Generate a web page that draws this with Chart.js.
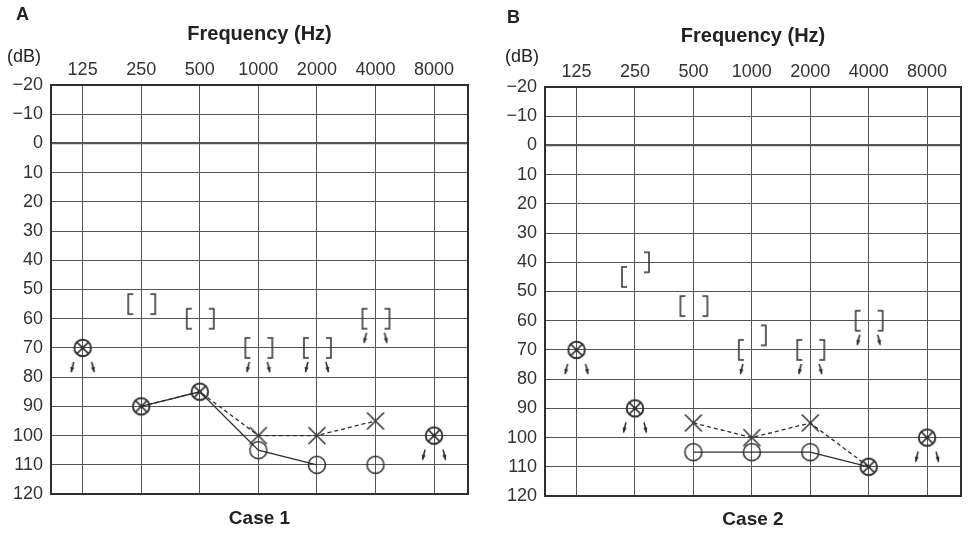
<!DOCTYPE html>
<html>
<head>
<meta charset="utf-8">
<script src="https://cdn.jsdelivr.net/npm/chart.js@4.4.0/dist/chart.umd.min.js"></script>
<style>
  body { margin: 0; background: #fff; }
  #wrap { position: relative; width: 968px; height: 535px; overflow: hidden; }
  #chartA { position: absolute; left: 0; top: 0; }
  #chartB { position: absolute; left: 494px; top: 2px; }
</style>
</head>
<body>
<div id="wrap">
  <canvas id="chartA" width="484" height="535"></canvas>
  <canvas id="chartB" width="474" height="533"></canvas>
</div>
<script>
// ---- data ----
const freqLabels = ['125', '250', '500', '1000', '2000', '4000', '8000'];

// Case 1
const case1RightAir  = [70, 90, 85, 105, 110, 110, 100];   // O
const case1LeftAir   = [70, 90, 85, 100, 100, 95, 100];    // X
const case1RightLine = [null, 90, 85, 105, 110, null, null];
const case1LeftLine  = [null, 90, 85, 100, 100, 95, null];
const case1RightBone = [null, 55, 60, 70, 70, 60, null];   // [
const case1LeftBone  = [null, 55, 60, 70, 70, 60, null];   // ]
const case1RightNR   = [70, null, null, 70, 70, 60, 100];  // no response, right
const case1LeftNR    = [70, null, null, 70, 70, 60, 100];  // no response, left

// Case 2
const case2RightAir  = [70, 90, 105, 105, 105, 110, 100];
const case2LeftAir   = [70, 90, 95, 100, 95, 110, 100];
const case2RightLine = [null, null, 105, 105, 105, 110, null];
const case2LeftLine  = [null, null, 95, 100, 95, 110, null];
const case2RightBone = [null, 45, 55, 70, 70, 60, null];
const case2LeftBone  = [null, 40, 55, 65, 70, 60, null];
const case2RightNR   = [70, 90, null, 70, 70, 60, 100];
const case2LeftNR    = [70, 90, null, null, 70, 60, 100];

const ink = '#2e2e2e';
const gridColor = '#555';
const fontFamily = "'Liberation Sans', Arial, Helvetica, sans-serif";

// ---- symbol images ----
function makeSymbol(w, h, draw) {
    const c = document.createElement('canvas');
    c.width = w; c.height = h;
    const g = c.getContext('2d');
    g.translate(w / 2, h / 2);
    g.strokeStyle = ink;
    g.fillStyle = ink;
    g.lineWidth = 1.5;
    g.lineCap = 'butt';
    draw(g);
    return c;
}

function arrow(g, x1, y1, x2, y2) {
    g.beginPath(); g.moveTo(x1, y1); g.lineTo(x2, y2); g.stroke();
    const a = Math.atan2(y2 - y1, x2 - x1);
    const bx = x2 - 5 * Math.cos(a), by = y2 - 5 * Math.sin(a);
    const nx = -Math.sin(a) * 2, ny = Math.cos(a) * 2;
    g.beginPath();
    g.moveTo(x2 + Math.cos(a), y2 + Math.sin(a));
    g.lineTo(bx + nx, by + ny);
    g.lineTo(bx - nx, by - ny);
    g.closePath();
    g.fill();
}

const imgCircle = makeSymbol(24, 24, g => {
    g.beginPath(); g.arc(0, 0, 8.5, 0, Math.PI * 2); g.stroke();
});
const imgCross = makeSymbol(24, 24, g => {
    g.beginPath();
    g.moveTo(-8.5, -8.5); g.lineTo(8.5, 8.5);
    g.moveTo(8.5, -8.5); g.lineTo(-8.5, 8.5);
    g.stroke();
});
const imgBoth = makeSymbol(24, 24, g => {
    g.lineWidth = 1.9;
    g.beginPath(); g.arc(0, 0, 8.3, 0, Math.PI * 2); g.stroke();
    g.lineWidth = 1.5;
    g.beginPath();
    g.moveTo(-5.9, -5.9); g.lineTo(5.9, 5.9);
    g.moveTo(5.9, -5.9); g.lineTo(-5.9, 5.9);
    g.stroke();
    g.beginPath(); g.arc(0, 0, 1.8, 0, Math.PI * 2); g.fill();
});
const imgBracketOpen = makeSymbol(40, 30, g => {
    g.beginPath();
    g.moveTo(-8, -10); g.lineTo(-13, -10); g.lineTo(-13, 10); g.lineTo(-8, 10);
    g.stroke();
});
const imgBracketClose = makeSymbol(40, 30, g => {
    g.beginPath();
    g.moveTo(9, -10); g.lineTo(14, -10); g.lineTo(14, 10); g.lineTo(9, 10);
    g.stroke();
});
const imgArrowLeft = makeSymbol(40, 60, g => arrow(g, -9, 14, -11.5, 24));
const imgArrowRight = makeSymbol(40, 60, g => arrow(g, 9, 14, 11.5, 24));

const toPoints = arr => arr.map((v, i) => ({ x: i, y: v }));

// ---- panel text + frame ----
const panelPlugin = {
    id: 'panelText',
    afterDraw(chart, args, opts) {
        const { ctx, chartArea } = chart;
        ctx.save();
        ctx.strokeStyle = ink;
        ctx.lineWidth = 2;
        ctx.strokeRect(chartArea.left, chartArea.top,
            chartArea.right - chartArea.left, chartArea.bottom - chartArea.top);

        ctx.fillStyle = '#222';
        ctx.textBaseline = 'middle';
        ctx.textAlign = 'left';
        ctx.font = 'bold 18px ' + fontFamily;
        ctx.fillText(opts.letter, opts.letterX, opts.letterY);
        ctx.font = '18px ' + fontFamily;
        ctx.fillText('(dB)', opts.dbX, opts.dbY);
        ctx.textAlign = 'center';
        ctx.font = 'bold 19px ' + fontFamily;
        ctx.fillText(opts.caseLabel, (chartArea.left + chartArea.right) / 2, opts.caseY);
        ctx.restore();
    }
};

function buildAudiogram(canvasId, d, panel) {
    const sameAir = i => d.rightAir[i] === d.leftAir[i];
    return new Chart(document.getElementById(canvasId), {
        type: 'scatter',
        data: {
            datasets: [
                {
                    label: 'Right air (O)',
                    data: toPoints(d.rightAir),
                    pointStyle: c => sameAir(c.dataIndex) ? imgBoth : imgCircle,
                    pointRadius: 6
                },
                {
                    label: 'Left air (X)',
                    data: toPoints(d.leftAir),
                    pointStyle: imgCross,
                    pointRadius: c => sameAir(c.dataIndex) ? 0 : 6
                },
                { label: 'Right bone', data: toPoints(d.rightBone), pointStyle: imgBracketOpen, pointRadius: 6 },
                { label: 'Left bone', data: toPoints(d.leftBone), pointStyle: imgBracketClose, pointRadius: 6 },
                { label: 'Right NR', data: toPoints(d.rightNR), pointStyle: imgArrowLeft, pointRadius: 6 },
                { label: 'Left NR', data: toPoints(d.leftNR), pointStyle: imgArrowRight, pointRadius: 6 },
                {
                    label: 'Right line',
                    data: toPoints(d.rightLine),
                    showLine: true,
                    borderColor: ink,
                    borderWidth: 1.3,
                    pointRadius: 0,
                    spanGaps: false
                },
                {
                    label: 'Left line',
                    data: toPoints(d.leftLine),
                    showLine: true,
                    borderColor: ink,
                    borderWidth: 1.3,
                    borderDash: [4, 3],
                    pointRadius: 0,
                    spanGaps: false
                }
            ]
        },
        options: {
            responsive: false,
            animation: false,
            devicePixelRatio: 1,
            events: [],
            layout: { padding: { left: 0, top: 0, right: panel.padRight, bottom: panel.padBottom } },
            plugins: {
                legend: { display: false },
                tooltip: { enabled: false },
                panelText: panel
            },
            scales: {
                x: {
                    type: 'linear',
                    position: 'top',
                    min: -0.54,
                    max: 6.58,
                    afterBuildTicks: s => { s.ticks = freqLabels.map((f, i) => ({ value: i })); },
                    afterFit: s => { s.height = 85; },
                    ticks: {
                        autoSkip: false,
                        maxRotation: 0,
                        padding: 4,
                        color: '#333',
                        font: { family: fontFamily, size: 18 },
                        callback: v => freqLabels[v]
                    },
                    grid: { color: gridColor, lineWidth: 1, drawTicks: false },
                    border: { display: false },
                    title: {
                        display: true,
                        text: 'Frequency (Hz)',
                        color: '#222',
                        font: { family: fontFamily, size: 20, weight: 'bold' },
                        padding: { top: 22, bottom: 0 }
                    }
                },
                y: {
                    type: 'linear',
                    reverse: true,
                    min: -20,
                    max: 120,
                    afterFit: s => { s.width = 51; },
                    ticks: {
                        stepSize: 10,
                        padding: 8,
                        color: '#333',
                        font: { family: fontFamily, size: 18 },
                        callback: v => v < 0 ? '\u2212' + Math.abs(v) : String(v)
                    },
                    grid: {
                        color: gridColor,
                        drawTicks: false,
                        lineWidth: c => c.tick && c.tick.value === 0 ? 2.2 : 1
                    },
                    border: { display: false }
                }
            }
        },
        plugins: [panelPlugin]
    });
}

buildAudiogram('chartA', {
    rightAir: case1RightAir, leftAir: case1LeftAir,
    rightLine: case1RightLine, leftLine: case1LeftLine,
    rightBone: case1RightBone, leftBone: case1LeftBone,
    rightNR: case1RightNR, leftNR: case1LeftNR
}, { letter: 'A', caseLabel: 'Case 1', letterX: 16, letterY: 15, dbX: 7, dbY: 57, caseY: 519, padRight: 16, padBottom: 41 });

buildAudiogram('chartB', {
    rightAir: case2RightAir, leftAir: case2LeftAir,
    rightLine: case2RightLine, leftLine: case2LeftLine,
    rightBone: case2RightBone, leftBone: case2LeftBone,
    rightNR: case2RightNR, leftNR: case2LeftNR
}, { letter: 'B', caseLabel: 'Case 2', letterX: 13, letterY: 16, dbX: 11, dbY: 55, caseY: 518, padRight: 5, padBottom: 39 });
</script>
</body>
</html>
